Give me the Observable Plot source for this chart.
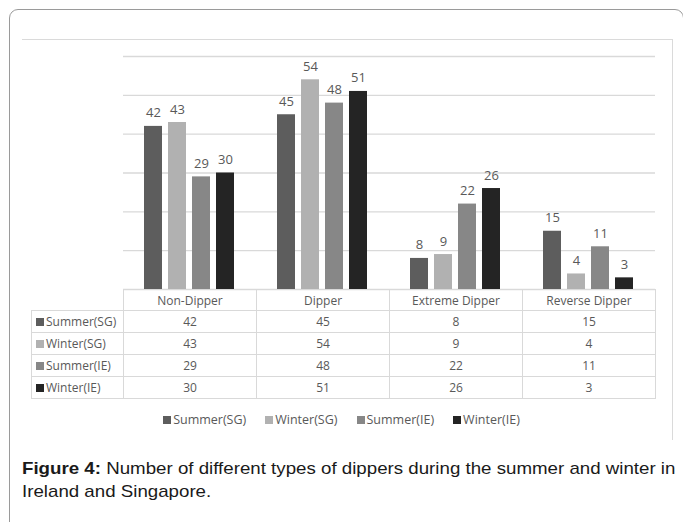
<!DOCTYPE html>
<html><head><meta charset="utf-8">
<script src="https://cdn.jsdelivr.net/npm/d3@7"></script>
<script src="https://cdn.jsdelivr.net/npm/@observablehq/plot@0.6"></script>
<style>
body{margin:0;background:#fff;width:683px;height:522px;overflow:hidden;position:relative;font-family:"Open Sans",sans-serif;}
#outer{position:absolute;left:9px;top:9px;width:675px;height:600px;border:1.5px solid #9a9a9a;border-radius:9px;box-sizing:border-box;}
#frame{position:absolute;left:22px;top:39px;width:651px;height:401px;border-top:1.5px solid #dadada;border-right:1.5px solid #dadada;box-sizing:border-box;}
#chart{position:absolute;left:0;top:0;}
#tbl{position:absolute;left:31px;top:289px;border-collapse:collapse;table-layout:fixed;font-size:12px;color:#595959;}
#tbl td{border:1px solid #d9d9d9;padding:0;text-align:center;height:21px;box-sizing:border-box;white-space:nowrap;}
#tbl td.lab{text-align:left;padding-left:4px;}
#tbl td.blank{border-top:none;border-left:none;}
.sw{display:inline-block;width:8px;height:8px;margin-right:2px;vertical-align:0px;}
#legend{position:absolute;left:0;top:411px;width:683px;display:flex;justify-content:center;gap:19px;font-size:12.5px;color:#595959;line-height:18px;}
#caption{position:absolute;left:22px;top:457px;font-family:"Liberation Sans",Arial,sans-serif;font-size:17px;line-height:23px;color:#1a1a1a;white-space:nowrap;transform:scaleX(1.1);transform-origin:0 0;}
</style>
</head><body>
<div id="outer"></div>
<div id="frame"></div>
<div id="chart"></div>
<table id="tbl"></table>
<div id="legend"></div>
<div id="caption"><b>Figure 4:</b> Number of different types of dippers during the summer and winter in<br>Ireland and Singapore.</div>
<script>
const categories = ["Non-Dipper", "Dipper", "Extreme Dipper", "Reverse Dipper"];
const series = ["Summer(SG)", "Winter(SG)", "Summer(IE)", "Winter(IE)"];
const summerSG = [42, 45, 8, 15];
const winterSG = [43, 54, 9, 4];
const summerIE = [29, 48, 22, 11];
const winterIE = [30, 51, 26, 3];
const colors = ["#5d5d5d", "#b1b1b1", "#878787", "#242424"];
const gridTicks = [0, 10, 20, 30, 40, 50, 60];

const rows = [summerSG, winterSG, summerIE, winterIE];
const data = series.flatMap((s, i) => categories.map((c, j) => ({series: s, category: c, value: rows[i][j]})));

const chart = Plot.plot({
  width: 683, height: 290,
  marginTop: 56, marginBottom: 1, marginLeft: 123, marginRight: 28,
  fx: {domain: categories, padding: 0, axis: null},
  x: {domain: series, paddingInner: 0.24, paddingOuter: 0.856, axis: null},
  y: {domain: [0, 60], axis: null},
  color: {domain: series, range: colors},
  marks: [
    Plot.ruleY(gridTicks, {stroke: "#d9d9d9", strokeWidth: 1.3}),
    Plot.barY(data, {fx: "category", x: "series", y: "value", fill: "series"}),
    Plot.text(data, {fx: "category", x: "series", y: "value", text: "value", dy: -9, lineAnchor: "bottom", fill: "#595959", fontSize: 13})
  ],
  style: {fontFamily: "Open Sans", background: "transparent", overflow: "visible"}
});
document.getElementById("chart").appendChild(chart);

// data table
const tbl = document.getElementById("tbl");
const colg = document.createElement("colgroup");
[92, 133, 133, 133, 133].forEach(w => { const c = document.createElement("col"); c.style.width = w + "px"; colg.appendChild(c); });
tbl.appendChild(colg);
const hr = document.createElement("tr");
const b = document.createElement("td"); b.className = "blank"; hr.appendChild(b);
categories.forEach(c => { const td = document.createElement("td"); td.textContent = c; hr.appendChild(td); });
tbl.appendChild(hr);
series.forEach((s, i) => {
  const tr = document.createElement("tr");
  const lab = document.createElement("td"); lab.className = "lab";
  lab.innerHTML = `<span class="sw" style="background:${colors[i]}"></span>${s}`;
  tr.appendChild(lab);
  rows[i].forEach(v => { const td = document.createElement("td"); td.textContent = v; td.style.height = "22px"; tr.appendChild(td); });
  tbl.appendChild(tr);
});

// legend
const lg = document.getElementById("legend");
series.forEach((s, i) => {
  const it = document.createElement("span");
  it.innerHTML = `<span class="sw" style="background:${colors[i]}"></span>${s}`;
  lg.appendChild(it);
});
</script>
</body></html>
